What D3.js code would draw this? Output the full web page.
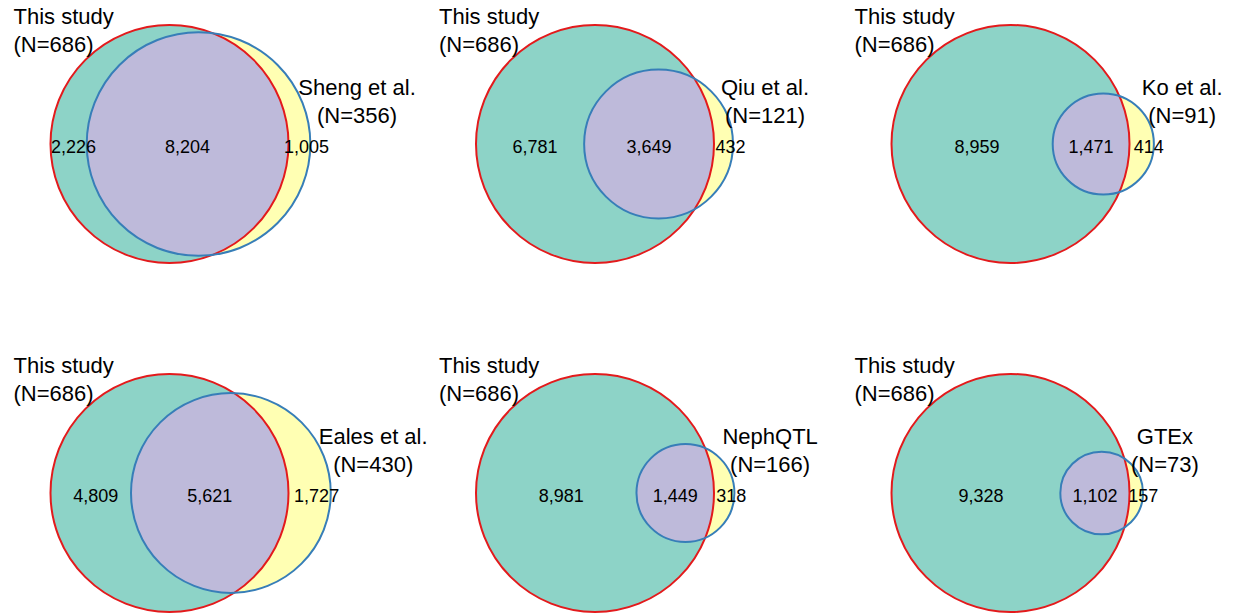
<!DOCTYPE html>
<html>
<head>
<meta charset="utf-8">
<script src="https://cdn.jsdelivr.net/npm/d3@7"></script>
<style>
  html, body { margin: 0; padding: 0; background: #ffffff; }
  svg { display: block; font-family: "Liberation Sans", Arial, sans-serif; }
</style>
</head>
<body>
<svg id="chart" width="1233" height="613"></svg>
<script>
// eQTL gene overlap between this study and six published kidney datasets
const thisStudyLabel = "This study";
const thisStudyN = 686;
const studies = ["Sheng et al.", "Qiu et al.", "Ko et al.", "Eales et al.", "NephQTL", "GTEx"];
const sampleSizes = [356, 121, 91, 430, 166, 73];
const thisStudyOnly = [2226, 6781, 8959, 4809, 8981, 9328];
const shared = [8204, 3649, 1471, 5621, 1449, 1102];
const otherOnly = [1005, 432, 414, 1727, 318, 157];

// grid layout: centre of the "This study" circle in each panel
const colX = [169.5, 595, 1010.5];
const rowY = [144, 493];

const colors = {
  aFill: "#8dd3c7",
  bFill: "#ffffb3",
  abFill: "#bebada",
  aStroke: "#e31a1c",
  bStroke: "#377eb8"
};

const svg = d3.select("#chart");
const fmt = d3.format(",");

const maxTotal = d3.max(thisStudyOnly.map((v, i) => v + shared[i]));
const radius = d3.scaleSqrt().domain([0, maxTotal]).range([0, 119]);

// area of the lens shared by two circles at centre distance d
function lensArea(r1, r2, d) {
  if (d >= r1 + r2) return 0;
  if (d <= Math.abs(r1 - r2)) return Math.PI * Math.min(r1, r2) ** 2;
  const a1 = Math.acos((d * d + r1 * r1 - r2 * r2) / (2 * d * r1));
  const a2 = Math.acos((d * d + r2 * r2 - r1 * r1) / (2 * d * r2));
  const k = Math.sqrt((-d + r1 + r2) * (d + r1 - r2) * (d - r1 + r2) * (d + r1 + r2));
  return r1 * r1 * a1 + r2 * r2 * a2 - 0.5 * k;
}

// centre distance giving the requested overlap area (bisection)
function solveDistance(r1, r2, target) {
  let lo = Math.abs(r1 - r2), hi = r1 + r2;
  for (let i = 0; i < 80; i++) {
    const mid = (lo + hi) / 2;
    if (lensArea(r1, r2, mid) > target) lo = mid; else hi = mid;
  }
  return (lo + hi) / 2;
}

studies.forEach((name, i) => {
  const cx = colX[i % 3];
  const cy = rowY[Math.floor(i / 3)];
  const totalA = thisStudyOnly[i] + shared[i];
  const totalB = otherOnly[i] + shared[i];
  const r1 = radius(totalA);
  const r2 = radius(totalB);
  const overlapArea = Math.PI * radius(shared[i]) ** 2;
  const d = solveDistance(r1, r2, overlapArea);
  const bx = cx + d;

  const g = svg.append("g");
  const clipId = "clipA" + i;
  g.append("clipPath").attr("id", clipId)
    .append("circle").attr("cx", cx).attr("cy", cy).attr("r", r1);

  g.append("circle").attr("cx", cx).attr("cy", cy).attr("r", r1)
    .attr("fill", colors.aFill);
  g.append("circle").attr("cx", bx).attr("cy", cy).attr("r", r2)
    .attr("fill", colors.bFill);
  g.append("circle").attr("cx", bx).attr("cy", cy).attr("r", r2)
    .attr("fill", colors.abFill).attr("clip-path", `url(#${clipId})`);
  g.append("circle").attr("cx", cx).attr("cy", cy).attr("r", r1)
    .attr("fill", "none").attr("stroke", colors.aStroke).attr("stroke-width", 2);
  g.append("circle").attr("cx", bx).attr("cy", cy).attr("r", r2)
    .attr("fill", "none").attr("stroke", colors.bStroke).attr("stroke-width", 2);

  // region counts
  const aLeft = cx - r1, aRight = cx + r1, bLeft = bx - r2, bRight = bx + r2;
  const counts = [
    { v: thisStudyOnly[i], x: (aLeft + bLeft) / 2 + 5 },
    { v: shared[i], x: (bLeft + aRight) / 2 },
    { v: otherOnly[i], x: (aRight + bRight) / 2 + 7 }
  ];
  g.selectAll("text.count").data(counts).join("text")
    .attr("class", "count")
    .attr("x", c => c.x)
    .attr("y", cy + 8.5)
    .attr("text-anchor", "middle")
    .attr("font-size", 18)
    .attr("fill", "#000")
    .text(c => fmt(c.v));

  // "This study" label, top-left
  const tA = g.append("text").attr("font-size", 22).attr("fill", "#000");
  tA.append("tspan").attr("x", cx - 156).attr("y", cy - r1 - 1).text(thisStudyLabel);
  tA.append("tspan").attr("x", cx - 156).attr("y", cy - r1 + 27).text(`(N=${thisStudyN})`);

  // comparison dataset label, right of its circle
  const lines = [name, `(N=${sampleSizes[i]})`];
  const tB = g.append("g");
  const tNodes = lines.map((s, j) => tB.append("text")
    .attr("font-size", 22).attr("fill", "#000")
    .attr("y", cy - 49 + j * 27.5)
    .attr("text-anchor", "middle")
    .text(s));
  const w = d3.max(tNodes, t => t.node().getComputedTextLength());
  tNodes.forEach(t => t.attr("x", bRight - 12 + w / 2));
});
</script>
</body>
</html>
